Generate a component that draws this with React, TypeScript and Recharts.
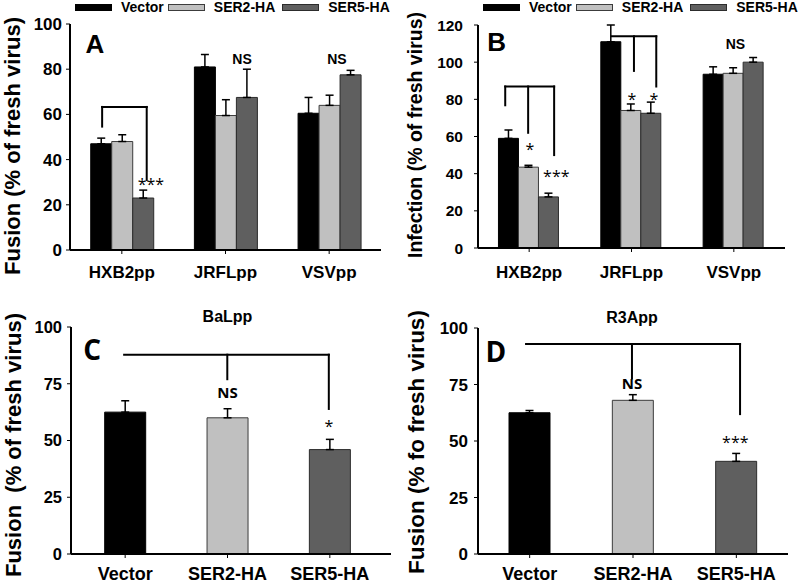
import {
  Bar,
  BarChart,
  Cell,
  ErrorBar,
  Label,
  Legend,
  ReferenceDot,
  ReferenceLine,
  XAxis,
  YAxis
} from "recharts";

// categories and series
const virusGroups = ["HXB2pp", "JRFLpp", "VSVpp"];
const constructs = ["Vector", "SER2-HA", "SER5-HA"];
const seriesColors = ["#000000", "#c0c0c0", "#5f5f5f"];
const seriesEdges = ["#000000", "#3c3c3c", "#2c2c2c"];

// A: fusion (% of fresh virus)
const fusionVector = [47, 81, 60.5];
const fusionVectorErr = [2.5, 5.5, 7];
const fusionSer2 = [48, 59.5, 64];
const fusionSer2Err = [3, 7, 4.5];
const fusionSer5 = [23, 67.5, 77.5];
const fusionSer5Err = [3.5, 12.5, 2];

// B: infection (% of fresh virus)
const infectionVector = [59, 111, 93.5];
const infectionVectorErr = [4.5, 9, 4];
const infectionSer2 = [43.5, 74, 94];
const infectionSer2Err = [1, 3.5, 3];
const infectionSer5 = [27.5, 72.5, 100];
const infectionSer5Err = [2, 6, 2.5];

// C: BaLpp fusion
const balFusion = [62.5, 60, 46];
const balFusionErr = [5, 4, 4.5];

// D: R3App fusion
const r3aFusion = [62.5, 68, 41];
const r3aFusionErr = [1, 2.5, 3.5];

const ticksA = [0, 20, 40, 60, 80, 100];
const ticksB = [0, 20, 40, 60, 80, 100, 120];
const ticksCD = [0, 25, 50, 75, 100];

type Mark = { x: number; y: number; text: string; kind: "ns" | "star" | "letter" | "title" };
type Bracket = { from: number; to: number; top: number; legs: [number, number][] };

// annotation positions, x in category units (category i spans i..i+1)
const marksA: Mark[] = [
  { x: 0.24, y: 91.2, text: "A", kind: "letter" },
  { x: 0.78, y: 29, text: "***", kind: "star" },
  { x: 1.66, y: 84.6, text: "NS", kind: "ns" },
  { x: 2.575, y: 84.6, text: "NS", kind: "ns" }
];
const bracketsA: Bracket[] = [{ from: 0.31, to: 0.74, top: 63.3, legs: [[0.31, 54.6], [0.74, 31]] }];

const marksB: Mark[] = [
  { x: 0.183, y: 110.8, text: "B", kind: "letter" },
  { x: 0.507, y: 53.2, text: "*", kind: "star" },
  { x: 0.765, y: 38.8, text: "***", kind: "star" },
  { x: 1.504, y: 80.2, text: "*", kind: "star" },
  { x: 1.72, y: 80.2, text: "*", kind: "star" },
  { x: 2.516, y: 109.7, text: "NS", kind: "ns" }
];
const bracketsB: Bracket[] = [
  { from: 0.266, to: 0.744, top: 86.9, legs: [[0.266, 76.8], [0.49, 62], [0.744, 50]] },
  { from: 1.307, to: 1.742, top: 113.9, legs: [[1.524, 95.3], [1.742, 86.9]] }
];

const marksC: Mark[] = [
  { x: 0.178, y: 90, text: "C", kind: "letter" },
  { x: 1.5, y: 104.5, text: "BaLpp", kind: "title" },
  { x: 1.5, y: 70.9, text: "NS", kind: "ns" },
  { x: 2.49, y: 56.2, text: "*", kind: "star" }
];
const bracketsC: Bracket[] = [{ from: 0.49, to: 2.49, top: 87.8, legs: [[1.498, 77], [2.49, 63.9]] }];

const marksD: Mark[] = [
  { x: 0.174, y: 89.3, text: "D", kind: "letter" },
  { x: 1.49, y: 104.8, text: "R3App", kind: "title" },
  { x: 1.49, y: 75.5, text: "NS", kind: "ns" },
  { x: 2.49, y: 49.5, text: "***", kind: "star" }
];
const bracketsD: Bracket[] = [{ from: 0.465, to: 2.536, top: 92.9, legs: [[1.49, 77.7], [2.536, 61.9]] }];

const ARIAL = "'Liberation Sans', Arial, sans-serif";
const CALIBRI = "'Open Sans', 'Noto Sans', sans-serif";

const groupedRows = (v: number[], ve: number[], s2: number[], s2e: number[], s5: number[], s5e: number[]) =>
  virusGroups.map((name, i) => ({
    name,
    slot: i + 0.5,
    vector: v[i],
    vectorErr: [0, ve[i]],
    ser2: s2[i],
    ser2Err: [0, s2e[i]],
    ser5: s5[i],
    ser5Err: [0, s5e[i]]
  }));

const singleRows = (vals: number[], errs: number[]) =>
  constructs.map((name, i) => ({ name, slot: i + 0.5, value: vals[i], err: [0, errs[i]] }));

function markStyle(kind: Mark["kind"], calibri: boolean) {
  if (kind === "letter") return { fontSize: calibri ? 28 : 26, fontWeight: "bold", fontFamily: calibri ? CALIBRI : ARIAL };
  if (kind === "title") return { fontSize: 16, fontWeight: "bold", fontFamily: ARIAL };
  if (kind === "ns") return { fontSize: calibri ? 15 : 14, fontWeight: "bold", fontFamily: calibri ? CALIBRI : ARIAL };
  return { fontSize: 16, fontWeight: "normal", fontFamily: CALIBRI };
}

function renderMarks(marks: Mark[], calibri: boolean) {
  return marks.map((m, i) => (
    <ReferenceDot
      key={"m" + i}
      xAxisId="n"
      x={m.x}
      y={m.y}
      r={0}
      fill="none"
      stroke="none"
      ifOverflow="visible"
      label={{ value: m.text, position: "center", fill: "#000", ...markStyle(m.kind, calibri) }}
    />
  ));
}

function renderBrackets(brackets: Bracket[]) {
  const out: JSX.Element[] = [];
  brackets.forEach((b, bi) => {
    out.push(
      <ReferenceLine
        key={`b${bi}t`}
        xAxisId="n"
        segment={[{ x: b.from, y: b.top }, { x: b.to, y: b.top }]}
        stroke="#000"
        strokeWidth={2}
        strokeLinecap="square"
      />
    );
    b.legs.forEach(([x, y], li) =>
      out.push(
        <ReferenceLine
          key={`b${bi}l${li}`}
          xAxisId="n"
          segment={[{ x, y: b.top }, { x, y }]}
          stroke="#000"
          strokeWidth={2}
          strokeLinecap="square"
        />
      )
    );
  });
  return out;
}

function yTitle(text: string, cx: number, cy: number, size: number) {
  return (
    <Label
      content={() => (
        <text
          x={cx}
          y={cy}
          transform={`rotate(-90 ${cx} ${cy})`}
          textAnchor="middle"
          dominantBaseline="central"
          fontFamily={ARIAL}
          fontWeight="bold"
          fontSize={size}
          fill="#000"
          style={{ whiteSpace: "pre" }}
        >
          {text}
        </text>
      )}
    />
  );
}

function LegendRow() {
  return (
    <div style={{ display: "flex", alignItems: "center", height: 14, fontFamily: ARIAL, fontWeight: "bold", fontSize: 14, lineHeight: "14px", color: "#000", whiteSpace: "nowrap" }}>
      {constructs.map((name, i) => (
        <div key={name} style={{ display: "flex", alignItems: "center", marginRight: i === 0 ? 4 : 7 }}>
          <span style={{ display: "inline-block", width: 35, height: 5, background: seriesColors[i], border: `1px solid ${seriesEdges[i]}`, marginRight: 9 }} />
          <span>{name}</span>
        </div>
      ))}
    </div>
  );
}

type FrameProps = {
  width: number;
  height: number;
  margin: { top: number; right: number; bottom: number; left: number };
  yWidth: number;
  yMax: number;
  yTicks: number[];
  yTickMargin: number;
  yTickSize: number;
  xTickMargin: number;
  xTickSize: number;
  pad: { left: number; right: number };
};

const axisLine = { stroke: "#000", strokeWidth: 2 };

function frameAxes(f: FrameProps, title: JSX.Element) {
  return [
    <XAxis
      key="x"
      dataKey="name"
      height={29}
      tickSize={4}
      tickMargin={f.xTickMargin}
      axisLine={axisLine}
      tickLine={{ stroke: "#000" }}
      tick={{ fill: "#000", fontSize: f.xTickSize, fontWeight: "bold", fontFamily: ARIAL }}
      interval={0}
      padding={f.pad}
    />,
    <XAxis
      key="n"
      xAxisId="n"
      dataKey="slot"
      type="number"
      domain={[0, 3]}
      allowDataOverflow
      orientation="top"
      height={0}
      tick={false}
      tickLine={false}
      axisLine={axisLine}
      padding={f.pad}
    />,
    <YAxis
      key="y"
      width={f.yWidth}
      domain={[0, f.yMax]}
      allowDataOverflow
      ticks={f.yTicks}
      interval={0}
      tickSize={4}
      tickMargin={f.yTickMargin}
      axisLine={axisLine}
      tickLine={{ stroke: "#000" }}
      tick={{ fill: "#000", fontSize: f.yTickSize, fontWeight: "bold", fontFamily: ARIAL }}
    >
      {title}
    </YAxis>,
    <YAxis key="r" yAxisId="r" orientation="right" width={0} domain={[0, 1]} tick={false} tickLine={false} axisLine={axisLine} />
  ];
}

const errProps = { width: 4, stroke: "#000", strokeWidth: 1.5, direction: "y" as const };

function GroupedPanel(props: {
  f: FrameProps;
  rows: ReturnType<typeof groupedRows>;
  title: JSX.Element;
  marks: Mark[];
  brackets: Bracket[];
  legendLeft: number;
}) {
  const { f } = props;
  const keys = ["vector", "ser2", "ser5"];
  return (
    <BarChart width={f.width} height={f.height} data={props.rows} margin={f.margin} barCategoryGap="20%" barGap={0}>
      {frameAxes(f, props.title)}
      {keys.map((k, i) => (
        <Bar key={k} dataKey={k} name={constructs[i]} fill={seriesColors[i]} stroke={seriesEdges[i]} strokeWidth={1} isAnimationActive={false}>
          <ErrorBar dataKey={k + "Err"} {...errProps} />
        </Bar>
      ))}
      {renderBrackets(props.brackets)}
      {renderMarks(props.marks, false)}
      <Legend
        verticalAlign="middle"
        align="center"
        layout="horizontal"
        wrapperStyle={{ top: 0, left: props.legendLeft, width: 330, height: 14 }}
        content={() => <LegendRow />}
      />
    </BarChart>
  );
}

function SinglePanel(props: {
  f: FrameProps;
  rows: ReturnType<typeof singleRows>;
  title: JSX.Element;
  marks: Mark[];
  brackets: Bracket[];
}) {
  const { f } = props;
  return (
    <BarChart width={f.width} height={f.height} data={props.rows} margin={f.margin} barCategoryGap="30%">
      {frameAxes(f, props.title)}
      <Bar dataKey="value" isAnimationActive={false} strokeWidth={1}>
        {props.rows.map((r, i) => (
          <Cell key={r.name} fill={seriesColors[i]} stroke={seriesEdges[i]} />
        ))}
        <ErrorBar dataKey="err" {...errProps} />
      </Bar>
      {renderBrackets(props.brackets)}
      {renderMarks(props.marks, true)}
    </BarChart>
  );
}

const frameA: FrameProps = {
  width: 400, height: 290, margin: { top: 24, right: 19, bottom: 11, left: 0 },
  yWidth: 70, yMax: 100, yTicks: ticksA, yTickMargin: 4, yTickSize: 17,
  xTickMargin: 12, xTickSize: 17, pad: { left: 0, right: 0 }
};
const frameB: FrameProps = {
  width: 400, height: 290, margin: { top: 25, right: 15, bottom: 13, left: 0 },
  yWidth: 78, yMax: 120, yTicks: ticksB, yTickMargin: 11, yTickSize: 15.5,
  xTickMargin: 14, xTickSize: 17, pad: { left: 0, right: 0 }
};
const frameC: FrameProps = {
  width: 400, height: 293, margin: { top: 37, right: 9, bottom: 0, left: 0 },
  yWidth: 71, yMax: 100, yTicks: ticksCD, yTickMargin: 5, yTickSize: 16.5,
  xTickMargin: 9, xTickSize: 18, pad: { left: 3, right: 10 }
};
const frameD: FrameProps = {
  width: 400, height: 293, margin: { top: 38, right: 12, bottom: 0, left: 0 },
  yWidth: 78, yMax: 100, yTicks: ticksCD, yTickMargin: 6, yTickSize: 17,
  xTickMargin: 9, xTickSize: 18, pad: { left: 0, right: 0 }
};

export default function App(): JSX.Element {
  return (
    <div style={{ position: "absolute", left: 0, top: 0, width: 800, height: 583, background: "#fff", overflow: "hidden" }}>
      <div style={{ position: "absolute", left: 0, top: 0 }}>
        <GroupedPanel
          f={frameA}
          rows={groupedRows(fusionVector, fusionVectorErr, fusionSer2, fusionSer2Err, fusionSer5, fusionSer5Err)}
          title={yTitle("Fusion (% of fresh virus)", 12, 146, 22)}
          marks={marksA}
          brackets={bracketsA}
          legendLeft={75}
        />
      </div>
      <div style={{ position: "absolute", left: 400, top: 0 }}>
        <GroupedPanel
          f={frameB}
          rows={groupedRows(infectionVector, infectionVectorErr, infectionSer2, infectionSer2Err, infectionSer5, infectionSer5Err)}
          title={yTitle("Infection (% of fresh virus)", 15, 135, 19.5)}
          marks={marksB}
          brackets={bracketsB}
          legendLeft={83}
        />
      </div>
      <div style={{ position: "absolute", left: 0, top: 290 }}>
        <SinglePanel
          f={frameC}
          rows={singleRows(balFusion, balFusionErr)}
          title={yTitle("Fusion  (% of fresh virus)", 13, 155, 22)}
          marks={marksC}
          brackets={bracketsC}
        />
      </div>
      <div style={{ position: "absolute", left: 400, top: 290 }}>
        <SinglePanel
          f={frameD}
          rows={singleRows(r3aFusion, r3aFusionErr)}
          title={yTitle("Fusion (% fo fresh virus)", 16, 152, 22.5)}
          marks={marksD}
          brackets={bracketsD}
        />
      </div>
    </div>
  );
}
